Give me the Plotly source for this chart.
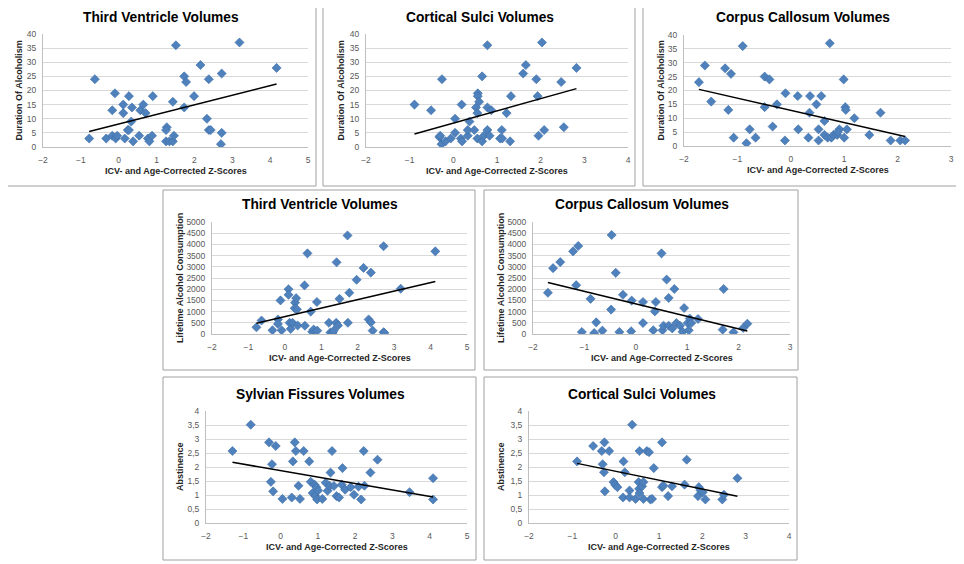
import numpy as np
import plotly.graph_objects as go

# the page puts the figure 8px in from the corner, so the figure is a bit smaller
OFF = 8
W, H = 964 - OFF, 564 - OFF

# ---- data ----
# Third ventricle z-scores vs duration of alcoholism
tv_x_dur = [-0.78, -0.63, -0.33, -0.17, -0.17, -0.10, -0.08, -0.04, 0.12, 0.12, 0.16, 0.24, 0.27, 0.27,
            0.35, 0.33, 0.38, 0.54, 0.57, 0.65, 0.71, 0.77, 0.81, 0.88, 0.90, 1.27, 1.25, 1.25, 1.34,
            1.43, 1.46, 1.43, 1.51, 1.73, 1.78, 1.73, 1.99, 2.16, 2.33, 2.38, 2.38, 2.43, 2.72, 2.72,
            2.70, 3.19, 4.17]
tv_y_dur = [3, 24, 3, 13, 4, 19, 3, 4, 15, 12, 3, 6, 18, 6,
            14, 9, 2, 4, 13, 15, 12, 3, 2, 4, 18, 7, 6, 2, 2,
            2, 4, 16, 36, 25, 23, 14, 18, 29, 10, 24, 6, 6, 26, 5,
            1, 37, 28]

# Cortical sulci z-scores vs duration of alcoholism
cs_x_dur = [-0.89, -0.51, -0.26, -0.32, -0.30, -0.27, -0.18, -0.06, 0.04, 0.04, 0.17, 0.20, 0.19, 0.33,
            0.33, 0.37, 0.48, 0.52, 0.55, 0.56, 0.56, 0.59, 0.55, 0.66, 0.70, 0.78, 0.78, 0.78, 0.83,
            0.87, 0.66, 1.07, 1.11, 1.12, 1.22, 1.32, 1.30, 1.60, 1.66, 1.90, 1.93, 1.95, 2.03, 2.08,
            2.47, 2.53, 2.82]
cs_y_dur = [15, 13, 24, 3.5, 4, 1, 2, 3, 5, 10, 3, 2, 15, 4,
            6, 9, 6, 14, 12, 19, 18, 16, 3, 2, 4, 36, 14, 6, 4,
            13, 25, 3, 6, 3, 12, 18, 2, 26, 29, 24, 18, 4, 37, 6,
            23, 7, 28]

# Corpus callosum z-scores vs duration of alcoholism
cc_x_dur = [-1.72, -1.61, -1.49, -1.23, -1.12, -1.17, -1.07, -0.90, -0.83, -0.77, -0.66, -0.49, -0.40,
            -0.49, -0.34, -0.26, -0.10, -0.11, 0.13, 0.14, 0.33, 0.36, 0.35, 0.48, 0.52, 0.57, 0.52,
            0.63, 0.63, 0.69, 0.73, 0.76, 0.80, 0.87, 0.91, 0.88, 0.99, 1.00, 1.02, 1.03, 1.05, 1.19,
            1.47, 1.68, 1.87, 2.05, 2.14]
cc_y_dur = [23, 29, 16, 28, 26, 13, 3, 36, 1, 6, 3, 25, 24,
            14, 7, 15, 19, 2, 18, 6, 3, 18, 12, 15, 6, 18, 2,
            9, 4, 3, 37, 3, 4, 4, 6, 5, 24, 3, 14, 13, 6, 10,
            4, 12, 2, 2, 2]

# Third ventricle z-scores vs lifetime alcohol consumption
tv_x_life = [-0.78, -0.64, -0.34, -0.19, -0.19, -0.12, -0.09, 0.10, 0.10, 0.13, 0.16, 0.21, 0.28, 0.31,
             0.27, 0.33, 0.35, 0.55, 0.54, 0.62, 0.71, 0.75, 0.79, 0.88, 0.89, 1.21, 1.25, 1.31, 1.34,
             1.41, 1.42, 1.46, 1.50, 1.72, 1.73, 1.77, 1.97, 2.16, 2.30, 2.36, 2.36, 2.41, 2.71, 2.71,
             2.73, 3.18, 4.13]
tv_y_life = [300, 600, 165, 650, 450, 1500, 165, 2000, 1750, 500, 230, 500, 1400, 1600,
             1150, 1100, 380, 370, 2170, 3600, 1000, 100, 200, 1430, 150, 500, 70, 50, 150,
             500, 3200, 380, 1570, 4400, 500, 1840, 2420, 2950, 650, 520, 2740, 150, 3920, 80,
             50, 2020, 3690]

# Corpus callosum z-scores vs lifetime alcohol consumption
cc_x_life = [-1.71, -1.61, -1.47, -1.22, -1.12, -1.16, -1.05, -0.88, -0.81, -0.77, -0.65, -0.47, -0.48,
             -0.39, -0.32, -0.25, -0.08, -0.09, 0.14, 0.14, 0.34, 0.37, 0.39, 0.50, 0.52, 0.54, 0.60,
             0.64, 0.64, 0.71, 0.75, 0.79, 0.86, 0.91, 0.94, 1.01, 1.03, 1.05, 1.08, 1.21, 1.69, 1.71,
             1.90, 2.09, 2.17]
cc_y_life = [1840, 2940, 3210, 3690, 3930, 2180, 90, 1570, 45, 520, 150, 4420, 1090,
             2730, 90, 1750, 1490, 120, 1430, 490, 165, 1010, 1430, 3600, 165, 370, 2430,
             1610, 370, 250, 2010, 490, 370, 100, 1160, 490, 165, 690, 490, 670, 195, 2010,
             75, 270, 460]

# Sylvian fissures z-scores vs abstinence
sf_x_abs = [-1.29, -0.80, -0.31, -0.13, -0.23, -0.26, -0.20, 0.05, 0.30, 0.33, 0.38, 0.41, 0.48, 0.52,
            0.62, 0.77, 0.81, 0.86, 0.91, 0.96, 0.93, 0.98, 1.01, 1.12, 1.21, 1.26, 1.32, 1.34, 1.38,
            1.43, 1.50, 1.57, 1.64, 1.66, 1.73, 1.88, 1.97, 2.09, 2.16, 2.23, 2.25, 2.41, 2.60, 3.46,
            4.09, 4.09]
sf_y_abs = [2.57, 3.51, 2.88, 2.75, 2.10, 1.47, 1.13, 0.86, 0.91, 2.20, 2.88, 2.57, 1.33, 0.86,
            2.57, 2.20, 1.47, 1.07, 1.37, 1.28, 0.96, 0.84, 1.16, 0.86, 1.44, 1.15, 1.32, 1.80, 2.57,
            1.32, 0.96, 0.91, 1.37, 1.96, 1.19, 1.28, 1.01, 1.30, 0.84, 2.57, 1.33, 1.80, 2.26, 1.10,
            1.60, 0.84]

# Cortical sulci z-scores vs abstinence
cs_x_abs = [-0.89, -0.52, -0.32, -0.26, -0.30, -0.27, -0.25, -0.15, -0.05, -0.01, 0.04, 0.18, 0.21, 0.17,
            0.32, 0.32, 0.38, 0.46, 0.53, 0.54, 0.55, 0.55, 0.61, 0.64, 0.64, 0.72, 0.77, 0.80, 0.84,
            0.88, 1.07, 1.07, 1.10, 1.21, 1.30, 1.59, 1.64, 1.90, 1.92, 1.96, 2.01, 2.07, 2.46, 2.50,
            2.81]
cs_y_abs = [2.20, 2.75, 2.57, 2.88, 2.10, 1.81, 1.13, 2.57, 1.46, 1.36, 1.28, 2.20, 1.81, 0.91,
            1.16, 0.91, 3.51, 0.86, 1.46, 1.22, 2.57, 1.07, 1.31, 1.46, 0.86, 2.57, 2.53, 0.84, 0.86,
            1.96, 2.88, 1.28, 1.34, 0.96, 1.31, 1.37, 2.26, 0.96, 1.28, 1.16, 1.10, 0.84, 0.84, 1.01,
            1.60]

x_label = "ICV- and Age-Corrected Z-Scores"

# panel list: title, y label, x data, y data, x range, y range, y step
panels = [
    ("Third Ventricle Volumes", "Duration Of Alcoholism", tv_x_dur, tv_y_dur, [-2, 5], [0, 40], 5),
    ("Cortical Sulci Volumes", "Duration Of Alcoholism", cs_x_dur, cs_y_dur, [-2, 4], [0, 40], 5),
    ("Corpus Callosum Volumes", "Duration Of Alcoholism", cc_x_dur, cc_y_dur, [-2, 3], [0, 40], 5),
    ("Third Ventricle Volumes", "Lifetime Alcohol Consumption", tv_x_life, tv_y_life, [-2, 5], [0, 5000], 500),
    ("Corpus Callosum Volumes", "Lifetime Alcohol Consumption", cc_x_life, cc_y_life, [-2, 3], [0, 5000], 500),
    ("Sylvian Fissures Volumes", "Abstinence", sf_x_abs, sf_y_abs, [-2, 5], [0, 4], 0.5),
    ("Cortical Sulci Volumes", "Abstinence", cs_x_abs, cs_y_abs, [-2, 4], [0, 4], 0.5),
]

# window pixel geometry: plot area (l, r, t, b), frame (l, r, t, b), title y, y-title offset
geom = [
    ((43, 308, 34, 147), (3, 316, 3, 186), 17, 24),
    ((366, 628, 34, 147), (323, 635, 3, 186), 17, 25),
    ((684, 951, 35, 146), (643, 960, 3, 186), 17, 23),
    ((212, 467, 222, 334), (163, 475, 190, 370), 204, 32),
    ((533, 790, 222, 334), (484, 798, 190, 370), 204, 32),
    ((206, 467, 411, 523), (163, 476, 377, 560), 394, 26),
    ((529, 789, 411, 523), (484, 797, 377, 560), 394, 28),
]

def px(x):
    return (x - OFF) / W

def py(y):
    return 1 - (y - OFF) / H

fig = go.Figure()
shapes = []
annotations = []
layout = {}
tickfont = dict(family="Liberation Sans, Arial", size=8.5, color="#595959")

for i, (p, g) in enumerate(zip(panels, geom)):
    title, ylab, xs, ys, xr, yr, ystep = p
    (l, r, t, b), (fl, fr, ft, fb), ty, yoff = g
    n = "" if i == 0 else str(i + 1)
    xa, ya = "x" + n, "y" + n

    fig.add_trace(go.Scatter(
        x=xs, y=ys, mode="markers", xaxis=xa, yaxis=ya, showlegend=False,
        marker=dict(symbol="diamond", size=7, color="#4F81BD",
                    line=dict(color="#3B6BA5", width=0.6)),
    ))
    # linear trend line, like excel's
    k, c = np.polyfit(xs, ys, 1)
    tx = [min(xs), max(xs)]
    fig.add_trace(go.Scatter(
        x=tx, y=[k * v + c for v in tx], mode="lines", xaxis=xa, yaxis=ya,
        showlegend=False, line=dict(color="black", width=1.5), hoverinfo="skip",
    ))

    layout["xaxis" + n] = dict(
        domain=[px(l), px(r)], anchor=ya, range=xr, dtick=1, showgrid=False,
        zeroline=False, showline=True, linecolor="#BFBFBF", linewidth=1,
        ticks="", automargin=False, ticklabelstandoff=5, tickfont=tickfont,
    )
    layout["yaxis" + n] = dict(
        domain=[py(b), py(t)], anchor=xa, range=yr, dtick=ystep, showgrid=True,
        gridcolor="#D9D9D9", gridwidth=1, zeroline=False,
        showline=True, linecolor="#BFBFBF", linewidth=1, ticks="",
        automargin=False, ticklabelstandoff=4, tickfont=tickfont,
    )
    # chart frame
    shapes.append(dict(type="rect", xref="paper", yref="paper", x0=px(fl), x1=px(fr),
                       y0=py(fb), y1=py(ft), line=dict(color="#A0A0A0", width=1)))

    annotations.append(dict(text="<b>%s</b>" % title, x=px((fl + fr) / 2 + 1), y=py(ty),
                            xref="paper", yref="paper", showarrow=False,
                            xanchor="center", yanchor="middle",
                            font=dict(family="Liberation Sans, Arial", size=13.75, color="black")))
    annotations.append(dict(text="<b>%s</b>" % x_label, x=px((l + r) / 2), y=py(b + 24),
                            xref="paper", yref="paper", showarrow=False,
                            xanchor="center", yanchor="middle",
                            font=dict(family="Liberation Sans, Arial", size=9, color="#262626")))
    annotations.append(dict(text="<b>%s</b>" % ylab, x=px(l - yoff), y=py((t + b) / 2),
                            xref="paper", yref="paper", showarrow=False, textangle=-90,
                            xanchor="center", yanchor="middle",
                            font=dict(family="Liberation Sans, Arial", size=9, color="#262626")))

fig.update_layout(
    width=W, height=H, margin=dict(l=0, r=0, t=0, b=0, autoexpand=False),
    paper_bgcolor="white", plot_bgcolor="white",
    separators=",.", shapes=shapes, annotations=annotations, **layout,
)

fig.write_html("out.html")
